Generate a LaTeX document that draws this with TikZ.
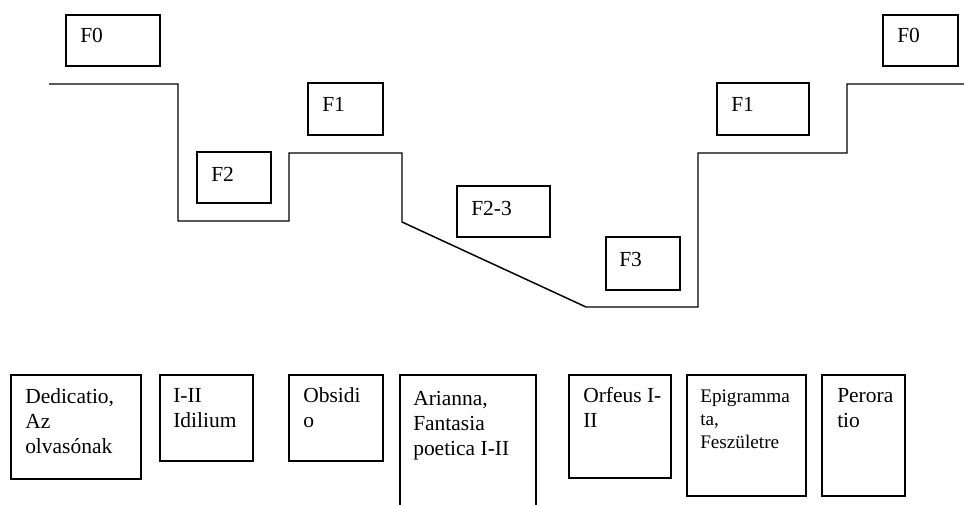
\documentclass[tikz,border=0pt]{standalone}
\usepackage{fontspec}
\setmainfont{Liberation Serif}
\usetikzlibrary{fit}
\begin{document}
\begin{tikzpicture}[x=0.75pt,y=-0.75pt,
  box/.style={draw, line width=1.2pt, inner sep=0pt},
  lbl/.style={anchor=base west, inner sep=0pt, align=left,
    font=\fontsize{16.1pt}{18.75pt}\selectfont},
  slbl/.style={anchor=base west, inner sep=0pt, align=left,
    font=\fontsize{14.4pt}{17.25pt}\selectfont},
  level/.style={line width=1.1pt, line join=miter}]
\clip (0,0) rectangle (964,505);
\useasboundingbox (0,0) rectangle (964,505);
% level line
\coordinate (p0) at (49,84);
\coordinate (p1) at (178,84);
\coordinate (p2) at (178,221);
\coordinate (p3) at (289,221);
\coordinate (p4) at (289,153);
\coordinate (p5) at (402,153);
\coordinate (p6) at (402,222);
\coordinate (p7) at (586,307);
\coordinate (p8) at (698,307);
\coordinate (p9) at (698,153);
\coordinate (p10) at (847,153);
\coordinate (p11) at (847,84);
\coordinate (p12) at (966,84);
\draw[level] (p0) -- (p1) -- (p2) -- (p3) -- (p4) -- (p5) -- (p6) -- (p7) -- (p8) -- (p9) -- (p10) -- (p11) -- (p12);
% top boxes
\node[box, fit={(66,15) (160,66)}] (f0a) {};
\node[lbl] (tf0a) at (80,43) {F0};
\node[box, fit={(197,152) (271,203)}] (f2) {};
\node[lbl] (tf2) at (211,182) {F2};
\node[box, fit={(308,83) (383,135)}] (f1a) {};
\node[lbl] (tf1a) at (322,112) {F1};
\node[box, fit={(457,186) (550,237)}] (f23) {};
\node[lbl] (tf23) at (471,216) {F2-3};
\node[box, fit={(606,237) (680,290)}] (f3) {};
\node[lbl] (tf3) at (619,267) {F3};
\node[box, fit={(717,83) (809,135)}] (f1b) {};
\node[lbl] (tf1b) at (731,112) {F1};
\node[box, fit={(883,15) (958,66)}] (f0b) {};
\node[lbl] (tf0b) at (897,43) {F0};
% bottom boxes (base anchor = baseline of last line)
\node[box, fit={(11,375) (141,479)}] (b1) {};
\node[lbl] (tb1) at (25,454) {Dedicatio,\\Az\\olvasónak};
\node[box, fit={(160,375) (253,461)}] (b2) {};
\node[lbl] (tb2) at (173,428) {I-II\\Idilium};
\node[box, fit={(289,375) (383,461)}] (b3) {};
\node[lbl] (tb3) at (303,428) {Obsidi\\o};
\node[box, fit={(400,375) (536,520)}] (b4) {};
\node[lbl] (tb4) at (413,456) {Arianna,\\Fantasia\\poetica I-II};
\node[box, fit={(569,375) (671,478)}] (b5) {};
\node[lbl] (tb5) at (583,428) {Orfeus I-\\II};
\node[box, fit={(687,375) (806,496)}] (b6) {};
\node[slbl] (tb6) at (700,449) {Epigramma\\ta,\\Feszületre};
\node[box, fit={(822,375) (905,496)}] (b7) {};
\node[lbl] (tb7) at (837,428) {Perora\\tio};
\end{tikzpicture}
\end{document}
